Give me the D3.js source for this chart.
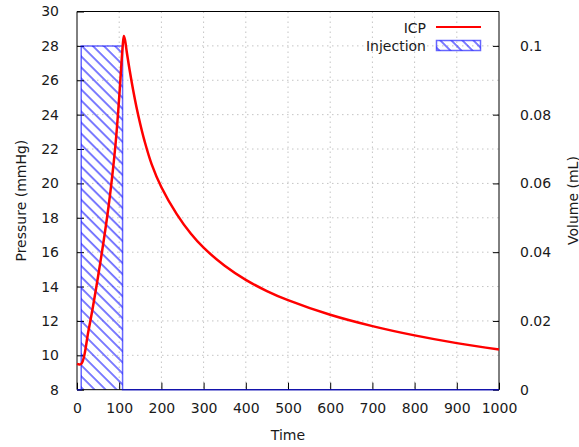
<!DOCTYPE html>
<html>
<head>
<meta charset="utf-8">
<script src="https://cdn.jsdelivr.net/npm/d3@7"></script>
<style>
  body { margin: 0; background: #fff; }
  svg { font-family: "DejaVu Sans", sans-serif; }
</style>
</head>
<body>
<div id="chart"></div>
<script>
// ICP response to a volume injection
const icpTime = [0, 10, 27, 50, 75, 91, 100, 108, 111, 114, 118, 125, 133, 141, 150, 160, 177, 200, 236, 270, 300, 350, 400, 450, 500, 600, 700, 800, 900, 1000];
const icpPressure = [9.5, 9.5, 11.4, 14.6, 18.7, 22.2, 25.0, 27.9, 28.58, 28.31, 27.63, 26.55, 25.43, 24.43, 23.44, 22.47, 21.11, 19.78, 18.23, 17.07, 16.26, 15.21, 14.39, 13.74, 13.21, 12.36, 11.7, 11.16, 10.71, 10.34];

// injection volume (boxes)
const injTime = [0, 10, 10, 108, 108, 1000];
const injVolume = [0, 0, 0.1, 0.1, 0, 0];

const xTicks = [0, 100, 200, 300, 400, 500, 600, 700, 800, 900, 1000];
const yTicks = [8, 10, 12, 14, 16, 18, 20, 22, 24, 26, 28, 30];
const y2Ticks = [0, 0.02, 0.04, 0.06, 0.08, 0.1];

const W = 579, H = 447;
const plot = { left: 77, right: 499, top: 11.5, bottom: 389.7 };

const svg = d3.select("#chart").append("svg")
    .attr("width", W)
    .attr("height", H);

const x = d3.scaleLinear().domain([0, 1000]).range([plot.left, plot.right]);
const y = d3.scaleLinear().domain([8, 30]).range([plot.bottom, plot.top]);
const y2 = d3.scaleLinear().domain([0, 0.1]).range([plot.bottom, y(28)]);

// hatch pattern for the injection boxes
const defs = svg.append("defs");
defs.append("pattern")
    .attr("id", "hatch")
    .attr("patternUnits", "userSpaceOnUse")
    .attr("width", 7.8)
    .attr("height", 7.8)
    .attr("patternTransform", "rotate(-45)")
  .append("line")
    .attr("x1", 2).attr("y1", -2)
    .attr("x2", 2).attr("y2", 10)
    .attr("stroke", "#0000ff")
    .attr("stroke-opacity", 0.6)
    .attr("stroke-width", 1.7);

// grid
const grid = svg.append("g")
    .attr("stroke", "#c4c4c4")
    .attr("stroke-width", 1)
    .attr("stroke-dasharray", "1.5,3.5");
grid.selectAll(".gx")
    .data(xTicks.slice(1, -1))
    .enter().append("line")
    .attr("x1", d => x(d)).attr("x2", d => x(d))
    .attr("y1", plot.top).attr("y2", plot.bottom);
grid.selectAll(".gy")
    .data(yTicks.slice(1, -1))
    .enter().append("line")
    .attr("x1", plot.left).attr("x2", plot.right)
    .attr("y1", d => y(d)).attr("y2", d => y(d));

// injection boxes
const injData = injTime.map((t, i) => ({ t: t, v: injVolume[i] }));
const injLine = d3.line().x(d => x(d.t)).y(d => y2(d.v));
svg.append("path")
    .datum(injData)
    .attr("d", injLine)
    .attr("fill", "url(#hatch)")
    .attr("stroke", "none");

// axes
const tickFont = "14px";
const xAxis = svg.append("g")
    .attr("transform", "translate(0," + plot.bottom + ")")
    .call(d3.axisBottom(x).tickValues(xTicks).tickFormat(d3.format("d")).tickSizeInner(-7).tickSizeOuter(0).tickPadding(13));
const yAxis = svg.append("g")
    .attr("transform", "translate(" + plot.left + ",0)")
    .call(d3.axisLeft(y).tickValues(yTicks).tickSizeInner(-7).tickSizeOuter(0).tickPadding(18));
const y2Axis = svg.append("g")
    .attr("transform", "translate(" + plot.right + ",0)")
    .call(d3.axisRight(y2).tickValues(y2Ticks).tickFormat(d3.format("~g")).tickSizeInner(-6).tickSizeOuter(0).tickPadding(21));

[xAxis, yAxis, y2Axis].forEach(a => {
    a.selectAll("text").style("font-size", tickFont).attr("fill", "#1a1a1a");
    a.selectAll("line").attr("stroke", "#000");
    a.select(".domain").attr("stroke", "#000");
    a.attr("font-family", null);
});
xAxis.select(".domain").attr("d", "M" + plot.left + ",0H" + plot.right);
yAxis.select(".domain").attr("d", "M0," + plot.bottom + "V" + plot.top);
y2Axis.select(".domain").attr("d", "M0," + plot.bottom + "V" + plot.top);

// top border
svg.append("line")
    .attr("x1", plot.left).attr("x2", plot.right)
    .attr("y1", plot.top).attr("y2", plot.top)
    .attr("stroke", "#000");

// injection outline (drawn over the bottom axis)
svg.append("path")
    .datum(injData)
    .attr("d", injLine)
    .attr("fill", "none")
    .attr("stroke", "#0000ff")
    .attr("stroke-opacity", 0.6)
    .attr("stroke-width", 1.5);

// ICP curve
const icpData = icpTime.map((t, i) => ({ t: t, p: icpPressure[i] }));
svg.append("path")
    .datum(icpData)
    .attr("d", d3.line().x(d => x(d.t)).y(d => y(d.p)).curve(d3.curveCatmullRom.alpha(0.5)))
    .attr("fill", "none")
    .attr("stroke", "#ff0000")
    .attr("stroke-width", 2.5);

// axis labels
svg.append("text")
    .attr("x", (plot.left + plot.right) / 2)
    .attr("y", 440)
    .attr("text-anchor", "middle")
    .style("font-size", "14px")
    .attr("fill", "#1a1a1a")
    .text("Time");
svg.append("text")
    .attr("transform", "translate(26," + (plot.top + plot.bottom) / 2 + ") rotate(-90)")
    .attr("text-anchor", "middle")
    .style("font-size", "14px")
    .attr("fill", "#1a1a1a")
    .text("Pressure (mmHg)");
svg.append("text")
    .attr("transform", "translate(578," + (plot.top + plot.bottom) / 2 + ") rotate(-90)")
    .attr("text-anchor", "middle")
    .style("font-size", "14px")
    .attr("fill", "#1a1a1a")
    .text("Volume (mL)");

// legend
const legend = svg.append("g");
legend.append("text")
    .attr("x", 426).attr("y", 33)
    .attr("text-anchor", "end")
    .style("font-size", "14px")
    .attr("fill", "#1a1a1a")
    .text("ICP");
legend.append("line")
    .attr("x1", 436).attr("x2", 481)
    .attr("y1", 27).attr("y2", 27)
    .attr("stroke", "#ff0000")
    .attr("stroke-width", 2);
legend.append("text")
    .attr("x", 426).attr("y", 50.5)
    .attr("text-anchor", "end")
    .style("font-size", "14px")
    .attr("fill", "#1a1a1a")
    .text("Injection");
legend.append("rect")
    .attr("x", 436.5).attr("y", 40.5)
    .attr("width", 44).attr("height", 10)
    .attr("fill", "url(#hatch)")
    .attr("stroke", "#0000ff")
    .attr("stroke-opacity", 0.6)
    .attr("stroke-width", 1.5);
</script>
</body>
</html>
